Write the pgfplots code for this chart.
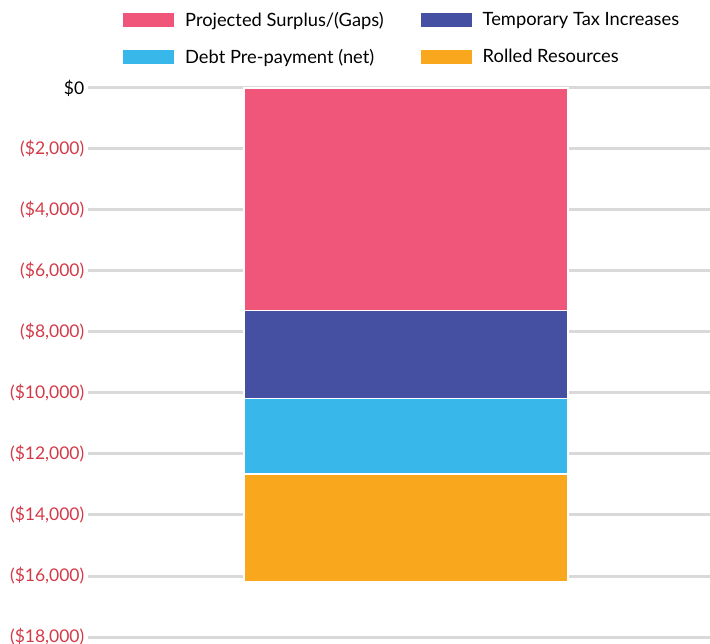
\documentclass[border=0pt]{standalone}
\usepackage{pgfplots}
\pgfplotsset{compat=1.18}
\usepackage{fontspec}
\setmainfont{Lato}
\definecolor{cpink}{HTML}{F0567A}
\definecolor{cdblue}{HTML}{4550A2}
\definecolor{clblue}{HTML}{38B8EA}
\definecolor{corange}{HTML}{F9A81E}
\definecolor{negred}{HTML}{D33A48}
\definecolor{gridgray}{HTML}{D9D9D9}
\begin{document}
\begin{tikzpicture}[x=1pt,y=1pt]
\useasboundingbox (0,0) rectangle (710,-644);
\begin{axis}[
  at={(88pt,-88pt)}, anchor=north west,
  scale only axis, width=622pt, height=549pt,
  xmin=-318, xmax=304, ymin=-18000, ymax=0,
  enlargelimits=false,
  scaled y ticks=false,
  ybar stacked, bar width=324pt,
  axis line style={draw=none},
  xtick=\empty,
  ytick={-18000,-16000,...,0},
  yticklabels={\textcolor{negred}{(\$18,000)},\textcolor{negred}{(\$16,000)},\textcolor{negred}{(\$14,000)},\textcolor{negred}{(\$12,000)},\textcolor{negred}{(\$10,000)},\textcolor{negred}{(\$8,000)},\textcolor{negred}{(\$6,000)},\textcolor{negred}{(\$4,000)},\textcolor{negred}{(\$2,000)},\$0},
  ymajorgrids,
  grid style={draw=gridgray, line width=3pt},
  major grid style={draw=gridgray, line width=3pt},
  major tick length=0pt,
  yticklabel style={font=\fontsize{17.5}{20}\selectfont, text=black, inner sep=2pt, xshift=-1.5pt},
  legend columns=2,
  legend cell align=left,
  legend style={at={(axis description cs:0,1)}, anchor=north west, xshift=35pt, yshift=78pt,
    draw=none, fill=none, inner sep=0pt,
    nodes={font=\fontsize{18.3}{21}\selectfont, inner sep=2pt},
    row sep=17pt,
    /tikz/every odd column/.append style={column sep=9pt},
    /tikz/every even column/.append style={column sep=35pt}},
  legend image code/.code={\fill[#1,draw=none] (0pt,-7pt) rectangle (51pt,7pt);},
  every axis plot/.append style={draw=white, line width=1.5pt},
]
\addplot[fill=cpink] coordinates {(0,-7300)};
\addlegendentry{Projected Surplus/(Gaps)}
\addplot[fill=cdblue] coordinates {(0,-2880)};
\addlegendentry{Temporary Tax Increases}
\addplot[fill=clblue] coordinates {(0,-2470)};
\addlegendentry{Debt Pre-payment (net)}
\addplot[fill=corange] coordinates {(0,-3540)};
\addlegendentry{Rolled Resources}
\end{axis}
\end{tikzpicture}
\end{document}
